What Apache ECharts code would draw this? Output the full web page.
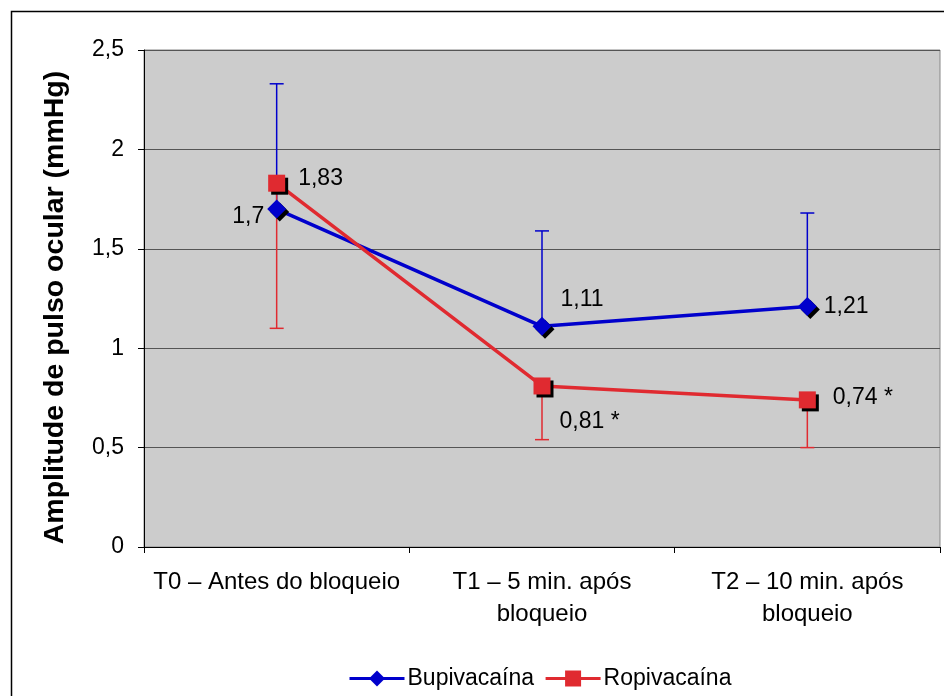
<!DOCTYPE html>
<html><head><meta charset="utf-8">
<script src="https://cdn.jsdelivr.net/npm/echarts@6/dist/echarts.min.js"></script>
<style>html,body{margin:0;padding:0;background:#fff}#c{width:944px;height:696px}</style>
</head><body><div id="c"></div>
<script>
const categories = ['T0 – Antes do bloqueio', 'T1 – 5 min. após\nbloqueio', 'T2 – 10 min. após\nbloqueio'];
const bupiValues = [1.70, 1.11, 1.21];
const ropiValues = [1.83, 0.81, 0.74];
const bupiUpper = [2.33, 1.59, 1.68];
const ropiLower = [1.10, 0.54, 0.50];
const bupiLabels = ['1,7', '1,11', '1,21'];
const ropiLabels = ['1,83', '0,81 *', '0,74 *'];
const yTicks = ['0', '0,5', '1', '1,5', '2', '2,5'];

const BLUE = '#0000CC', RED = '#E02A30';
const FONT = '"Liberation Sans", Arial, sans-serif';
const chart = echarts.init(document.getElementById('c'));

const bupiLabelCfg = [
  {position: 'left', offset: [2, 8]},
  {position: 'right', offset: [4, -27]},
  {position: 'right', offset: [2, 0]}
];
const ropiLabelCfg = [
  {position: 'right', offset: [8, -5]},
  {position: 'right', offset: [4, 36]},
  {position: 'right', offset: [12, -2]}
];

function errSeries(name, base, ends, color) {
  return {
    type: 'custom', name: name + '_err', z: 1, silent: true,
    data: base.map((v, i) => [i, v, ends[i]]),
    renderItem: function (params, api) {
      const p0 = api.coord([api.value(0), api.value(1)]);
      const p1 = api.coord([api.value(0), api.value(2)]);
      const hw = 7;
      const st = {stroke: color, lineWidth: 1.5};
      return {type: 'group', children: [
        {type: 'line', shape: {x1: p0[0], y1: p0[1], x2: p1[0], y2: p1[1]}, style: st},
        {type: 'line', shape: {x1: p1[0] - hw, y1: p1[1], x2: p1[0] + hw, y2: p1[1]}, style: st}
      ]};
    }
  };
}

const shadow = {shadowColor: '#000', shadowOffsetX: 3, shadowOffsetY: 3, shadowBlur: 0};

chart.setOption({
  animation: false,
  textStyle: {fontFamily: FONT},
  grid: {left: 144, top: 50, width: 796, height: 497, show: true, backgroundColor: '#CCCCCC', borderColor: '#888', borderWidth: 1},
  graphic: [
    {type: 'polyline', shape: {points: [[11.5, 700], [11.5, 11.5], [950, 11.5]]}, style: {stroke: '#000', lineWidth: 1.5, fill: null}}
  ],
  legend: {
    top: 662, left: 343, itemWidth: 55, itemHeight: 20, itemGap: 10,
    lineStyle: {width: 3},
    itemStyle: {shadowColor: 'rgba(0,0,0,0)', shadowOffsetX: 0, shadowOffsetY: 0},
    textStyle: {fontSize: 23, color: '#000', fontFamily: FONT, padding: [0, 0, 0, -2]},
    data: ['Bupivacaína', 'Ropivacaína']
  },
  xAxis: {
    type: 'category', data: categories, boundaryGap: true,
    axisLine: {lineStyle: {color: '#000', width: 1}},
    axisTick: {show: true, length: 6, lineStyle: {color: '#000'}},
    axisLabel: {fontSize: 24, color: '#000', margin: 19, lineHeight: 32, fontFamily: FONT, interval: 0},
    splitLine: {show: false}
  },
  yAxis: {
    type: 'value', min: 0, max: 2.5, interval: 0.5,
    name: 'Amplitude de pulso ocular (mmHg)', nameLocation: 'middle', nameGap: 74, nameRotate: 90,
    nameTextStyle: {fontSize: 28.5, fontWeight: 'bold', color: '#000', fontFamily: FONT, padding: [0, 0, 0, -18]},
    axisLine: {show: true, lineStyle: {color: '#000', width: 1}},
    axisTick: {show: true, length: 6, lineStyle: {color: '#000'}},
    axisLabel: {fontSize: 23, color: '#000', margin: 20, fontFamily: FONT,
      formatter: function (v) { return yTicks[Math.round(v / 0.5)]; }},
    splitLine: {show: true, lineStyle: {color: '#555', width: 1}}
  },
  series: [
    errSeries('Bupivacaína', bupiValues, bupiUpper, BLUE),
    errSeries('Ropivacaína', ropiValues, ropiLower, RED),
    {
      name: 'Bupivacaína', type: 'line', z: 3,
      symbol: 'diamond', symbolSize: [19, 19],
      lineStyle: {color: BLUE, width: 3.5},
      itemStyle: Object.assign({color: BLUE}, shadow),
      data: bupiValues.map((v, i) => ({value: v, label: Object.assign({show: true, formatter: bupiLabels[i], fontSize: 23, color: '#000', fontFamily: FONT}, bupiLabelCfg[i])}))
    },
    {
      name: 'Ropivacaína', type: 'line', z: 4,
      symbol: 'rect', symbolSize: 17,
      lineStyle: {color: RED, width: 3.5},
      itemStyle: Object.assign({color: RED}, shadow),
      data: ropiValues.map((v, i) => ({value: v, label: Object.assign({show: true, formatter: ropiLabels[i], fontSize: 23, color: '#000', fontFamily: FONT}, ropiLabelCfg[i])}))
    }
  ]
});
</script></body></html>
